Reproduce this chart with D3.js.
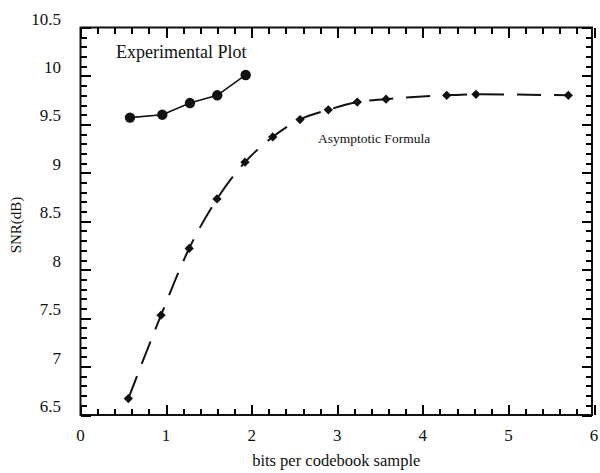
<!DOCTYPE html>
<html lang="en">
<head>
    <meta charset="UTF-8">
    <title>SNR vs bits per codebook sample</title>

    <script src="https://d3js.org/d3.v7.min.js"></script>

    <style>
        body { margin: 0; background: #ffffff; }
        .tick_text { font-family: "Liberation Serif", serif; font-size: 17px; fill: #111; }
        .axis_title { font-family: "Liberation Serif", serif; fill: #111; }
        .tk .domain { display: none; }
        .tk line { stroke: #000; stroke-width: 2px; shape-rendering: crispEdges; }
    </style>
</head>

<body>
<svg width="600" height="473"></svg>

<script>
    // values
    const expBits = [0.578, 0.956, 1.279, 1.598, 1.930];
    const expSNR  = [9.57, 9.60, 9.72, 9.80, 10.01];

    const asymBits = [0.559, 0.941, 1.270, 1.595, 1.922, 2.246, 2.565, 2.896, 3.234, 3.570, 4.279, 4.621, 5.700];
    const asymSNR  = [6.67, 7.53, 8.22, 8.73, 9.11, 9.37, 9.55, 9.65, 9.73, 9.76, 9.80, 9.81, 9.80];

    const xTicks = [0, 1, 2, 3, 4, 5, 6];
    const yTicks = [6.5, 7, 7.5, 8, 8.5, 9, 9.5, 10, 10.5];

    let svg = d3.select("svg");

    let x = d3.scaleLinear().domain([0, 6]).range([80.5, 594]);
    let y = d3.scaleLinear().domain([6.5, 10.5]).range([415, 27.5]);

    const ink = "#111";
    const xRight = x(6) - 2;   // frame edge sits a hair left of the 6 tick
    const yBot = y(6.5), yTop = y(10.5), xLeft = x(0);

    // frame
    svg.append("rect")
        .attr("x", xLeft).attr("y", yTop)
        .attr("width", xRight - xLeft).attr("height", yBot - yTop)
        .attr("fill", "none").attr("stroke", ink).attr("stroke-width", 2);

    // inward ticks on all four sides: minor every 0.2 / 0.1, majors longer
    let xMinor = d3.range(0, 31).map(i => i * 0.2);
    let yMinor = d3.range(0, 41).map(i => 6.5 + i * 0.1);

    function tickAxis(axis, values, size, tx, ty) {
        svg.append("g").attr("class", "tk")
            .attr("transform", "translate(" + tx + "," + ty + ")")
            .call(axis.tickValues(values).tickSize(size).tickFormat(""));
    }
    tickAxis(d3.axisBottom(x), xMinor, -6, 0, yBot);
    tickAxis(d3.axisBottom(x), xTicks, -10, 0, yBot);
    tickAxis(d3.axisTop(x), xMinor, -6, 0, yTop);
    tickAxis(d3.axisTop(x), xTicks, -10, 0, yTop);
    tickAxis(d3.axisLeft(y), yMinor, -6, xLeft, 0);
    tickAxis(d3.axisLeft(y), yTicks, -10, xLeft, 0);
    tickAxis(d3.axisRight(y), yMinor, -6, xRight, 0);
    tickAxis(d3.axisRight(y), yTicks, -10, xRight, 0);

    // tick labels
    svg.append("g").selectAll("text").data(xTicks).enter().append("text")
        .attr("class", "tick_text")
        .attr("x", d => x(d)).attr("y", 441)
        .attr("text-anchor", "middle")
        .text(d => d);

    svg.append("g").selectAll("text").data(yTicks).enter().append("text")
        .attr("class", "tick_text")
        .attr("x", 61).attr("y", d => y(d) - 3)
        .attr("text-anchor", "end")
        .text(d => d);

    // axis titles
    svg.append("text").attr("class", "axis_title")
        .attr("x", (xLeft + xRight) / 2).attr("y", 466)
        .attr("text-anchor", "middle").style("font-size", "16.5px")
        .text("bits per codebook sample");

    svg.append("text").attr("class", "axis_title")
        .attr("transform", "translate(21,225) rotate(-90)")
        .attr("text-anchor", "middle").style("font-size", "15px")
        .text("SNR(dB)");

    // asymptotic formula: dashed line with diamonds
    let asym = asymBits.map((b, i) => [b, asymSNR[i]]);
    let expPts = expBits.map((b, i) => [b, expSNR[i]]);

    let curve = d3.line().x(d => x(d[0])).y(d => y(d[1])).curve(d3.curveMonotoneX);

    svg.append("path").datum(asym)
        .attr("d", curve)
        .attr("fill", "none").attr("stroke", ink).attr("stroke-width", 2)
        .attr("stroke-dasharray", "24,13");

    svg.append("g").selectAll("path").data(asym).enter().append("path")
        .attr("d", d3.symbol().type(d3.symbolDiamond2).size(55))
        .attr("transform", d => "translate(" + x(d[0]) + "," + y(d[1]) + ")")
        .attr("fill", ink);

    // experimental plot: solid line with dots
    svg.append("path").datum(expPts)
        .attr("d", d3.line().x(d => x(d[0])).y(d => y(d[1])))
        .attr("fill", "none").attr("stroke", ink).attr("stroke-width", 1.6);

    svg.append("g").selectAll("circle").data(expPts).enter().append("circle")
        .attr("cx", d => x(d[0])).attr("cy", d => y(d[1])).attr("r", 5.2)
        .attr("fill", ink);

    // in-plot labels
    svg.append("text").attr("class", "axis_title")
        .attr("x", 116).attr("y", 58).style("font-size", "18px")
        .text("Experimental Plot");

    svg.append("text").attr("class", "axis_title")
        .attr("x", 318).attr("y", 143).style("font-size", "13.5px")
        .text("Asymptotic Formula");
</script>
</body>
</html>
